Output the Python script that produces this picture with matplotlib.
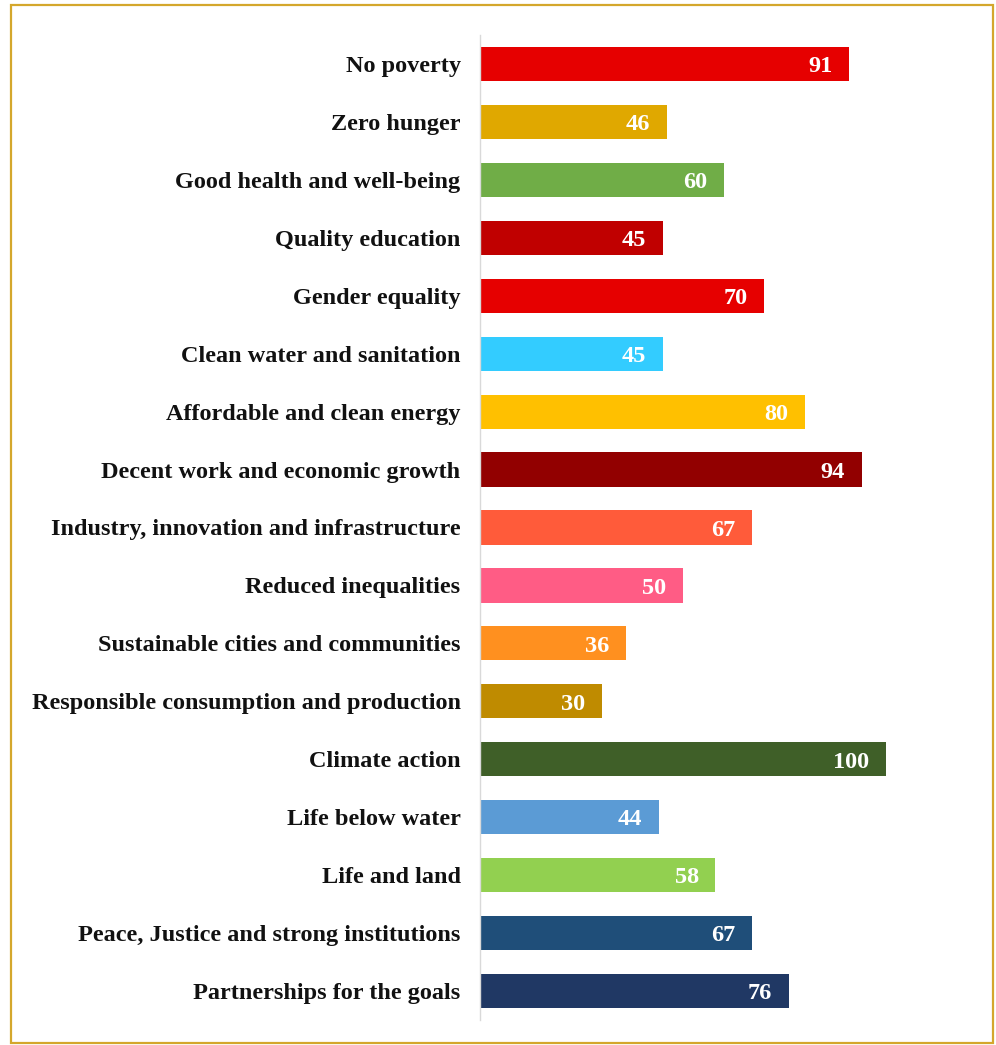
import matplotlib
matplotlib.use("Agg")
import matplotlib.pyplot as plt
from matplotlib.patches import Rectangle

categories = [
    "No poverty", "Zero hunger", "Good health and well-being", "Quality education",
    "Gender equality", "Clean water and sanitation", "Affordable and clean energy",
    "Decent work and economic growth", "Industry, innovation and infrastructure",
    "Reduced inequalities", "Sustainable cities and communities",
    "Responsible consumption and production", "Climate action", "Life below water",
    "Life and land", "Peace, Justice and strong institutions", "Partnerships for the goals",
]
values = [91, 46, 60, 45, 70, 45, 80, 94, 67, 50, 36, 30, 100, 44, 58, 67, 76]
colors = [
    "#E60000", "#E0A800", "#70AD47", "#C00000", "#E60000", "#33CCFF", "#FFC000",
    "#920000", "#FF5B3A", "#FF5C85", "#FF901F", "#BF8B00", "#3F5F28", "#5B9BD5",
    "#92D050", "#1F4E79", "#203864",
]

W, H = 996, 1045
fig = plt.figure(figsize=(W / 100, H / 100), dpi=100)
fig.patch.set_facecolor("white")

# outer border
fig.patches.append(Rectangle((11 / W, 1 - 1043 / H), (993 - 11) / W, (1043 - 5) / H,
                             transform=fig.transFigure, fill=False,
                             edgecolor="#D4A72C", linewidth=1.6))

ax = fig.add_axes([480 / W, 1 - 1020 / H, (886 - 480) / W, (1020 - 35) / H])
pos = list(range(len(categories)))
ax.barh(pos, values, height=0.59, color=colors)
ax.set_xlim(0, 100)
ax.set_ylim(len(categories) - 0.5, -0.5)
ax.set_yticks(pos)
ax.set_yticklabels(categories, fontfamily="Liberation Serif", fontweight="bold",
                   fontsize=17.5, color="#111111")
ax.tick_params(axis="y", length=0, pad=14)
ax.set_xticks([])
for s in ["top", "right", "bottom"]:
    ax.spines[s].set_visible(False)
ax.spines["left"].set_color("#D9D9D9")
ax.spines["left"].set_linewidth(1)

for p, v in zip(pos, values):
    ax.annotate(str(v), (v, p), xytext=(-12, -2), textcoords="offset points",
                ha="right", va="center", color="white", fontweight="bold",
                fontfamily="Liberation Serif", fontsize=17.5)

fig.savefig("out.png", dpi=100)
